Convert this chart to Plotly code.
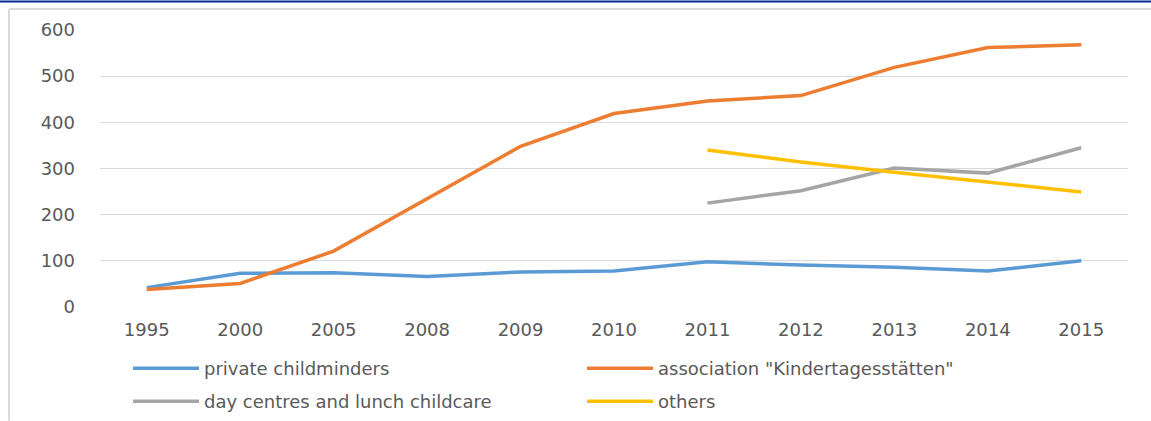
import plotly.graph_objects as go

years = ["1995", "2000", "2005", "2008", "2009", "2010", "2011", "2012", "2013", "2014", "2015"]
private_childminders = [42, 73, 74, 66, 76, 78, 98, 91, 86, 78, 100]
association_kita = [38, 51, 121, 235, 348, 419, 446, 458, 519, 562, 568]
day_centres = [None, None, None, None, None, None, 225, 252, 301, 290, 345]
others = [None, None, None, None, None, None, 340, 314, 292, 270, 249]

series = [
    ("private childminders", private_childminders, "#5B9BD5", "legend"),
    ('association "Kindertagesstätten"', association_kita, "#ED7D31", "legend"),
    ("day centres and lunch childcare", day_centres, "#A5A5A5", "legend2"),
    ("others", others, "#FFC000", "legend2"),
]

fig = go.Figure()
for name, vals, col, lg in series:
    fig.add_trace(go.Scatter(x=years, y=vals, name=name, mode="lines",
                             line=dict(color=col, width=3.5),
                             connectgaps=False, legend=lg))

W, H = 1151, 421
ml, mr, mt, mb = 100, 23, 29.5, 114
pw = W - ml - mr
ph = H - mt - mb

def px_x(p):
    return (p - ml) / pw

def px_y(p):
    return (H - mb - p) / ph

font = "DejaVu Sans"
txt = "#595959"

def legend_at(top_px):
    return dict(orientation="h", xref="container", yref="container",
                x=128 / W, y=1 - top_px / H, xanchor="left", yanchor="top",
                entrywidth=373, entrywidthmode="pixels", itemwidth=66,
                font=dict(family=font, size=18, color=txt),
                bgcolor="rgba(0,0,0,0)", tracegroupgap=0)

fig.update_layout(
    width=W, height=H,
    margin=dict(l=ml, r=mr, t=mt, b=mb, pad=0, autoexpand=False),
    paper_bgcolor="white", plot_bgcolor="white",
    font=dict(family=font, size=18, color=txt),
    showlegend=True,
    legend=legend_at(350),
    legend2=legend_at(383),
    xaxis=dict(type="category", showgrid=False, zeroline=False, showline=False,
               ticks="", tickfont=dict(family=font, size=18, color=txt),
               ticklabelstandoff=10, range=[-0.5, 10.5]),
    yaxis=dict(range=[0, 600], dtick=100, showgrid=True, gridcolor="#D9D9D9", gridwidth=1,
               zeroline=False, showline=False, ticks="",
               tickfont=dict(family=font, size=18, color=txt), ticklabelstandoff=24),
    shapes=[
        dict(type="line", xref="paper", yref="paper", x0=px_x(0), x1=px_x(W), y0=px_y(1), y1=px_y(1),
             line=dict(color="#0A2B94", width=2)),
        dict(type="line", xref="paper", yref="paper", x0=px_x(9), x1=px_x(W), y0=px_y(8.5), y1=px_y(8.5),
             line=dict(color="#D9D9D9", width=2)),
        dict(type="line", xref="paper", yref="paper", x0=px_x(9), x1=px_x(9), y0=px_y(8.5), y1=px_y(H),
             line=dict(color="#D9D9D9", width=2)),
    ],
)

fig.write_html("out.html")
